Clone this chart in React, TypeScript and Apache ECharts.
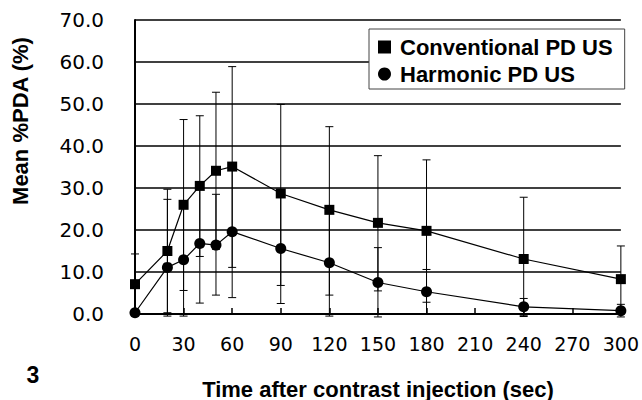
import React, { useEffect, useRef } from "react";
import * as echarts from "echarts";

const times = [0, 20, 30, 40, 50, 60, 90, 120, 150, 180, 240, 300];
const conventional = [7.1, 15.0, 26.0, 30.5, 34.1, 35.1, 28.7, 24.8, 21.7, 19.8, 13.1, 8.3];
const conventionalUpper = [14.3, 29.7, 46.3, 47.2, 52.8, 58.9, 49.9, 44.6, 37.7, 36.7, 27.8, 16.2];
const conventionalLower = [-0.1, 0.3, 5.6, 13.7, 15.4, 11.1, 6.8, 4.5, 5.5, 2.8, -0.6, 0.4];
const harmonic = [0.3, 11.1, 12.9, 16.8, 16.4, 19.6, 15.6, 12.2, 7.5, 5.3, 1.7, 0.8];
const harmonicUpper = [0.6, 27.3, 26.3, 30.9, 28.5, 35.3, 28.7, 24.9, 15.8, 10.6, 3.7, 2.3];
const harmonicLower = [0.0, -0.5, -0.5, 2.6, 4.5, 3.9, 2.5, -0.5, -0.7, 0.0, -0.3, -0.7];
const xTicks = [0, 30, 60, 90, 120, 150, 180, 210, 240, 270, 300];
const yTicks = [0, 10, 20, 30, 40, 50, 60, 70];
const seriesNames = ["Conventional PD US", "Harmonic PD US"];

const SANS = "Liberation Sans";

function errorBarItem(params: any, api: any) {
  const x = api.value(0);
  const lo = api.coord([x, api.value(1)]);
  const hi = api.coord([x, api.value(2)]);
  const w = 4;
  const style = { stroke: "#000", lineWidth: 1 };
  return {
    type: "group",
    children: [
      { type: "line", shape: { x1: lo[0], y1: lo[1], x2: hi[0], y2: hi[1] }, style },
      { type: "line", shape: { x1: lo[0] - w, y1: lo[1], x2: lo[0] + w, y2: lo[1] }, style },
      { type: "line", shape: { x1: hi[0] - w, y1: hi[1], x2: hi[0] + w, y2: hi[1] }, style },
    ],
  };
}

export default function App() {
  const ref = useRef<HTMLDivElement>(null);
  useEffect(() => {
    document.body.style.margin = "0";
    if (!ref.current) return;
    const chart = echarts.init(ref.current, null, { renderer: "svg" });
    const convPts = times.map((t, i) => [t, conventional[i]]);
    const harmPts = times.map((t, i) => [t, harmonic[i]]);
    const convErr = times.map((t, i) => [t, conventionalLower[i], conventionalUpper[i]]);
    const harmErr = times.map((t, i) => [t, harmonicLower[i], harmonicUpper[i]]);
    chart.setOption({
      animation: false,
      backgroundColor: "#fff",
      grid: { left: 135, top: 20, width: 486, height: 294 },
      xAxis: {
        type: "value",
        min: xTicks[0],
        max: xTicks[xTicks.length - 1],
        interval: 30,
        axisLine: { show: true, onZero: false, lineStyle: { color: "#000", width: 2 } },
        axisTick: { show: true, inside: true, length: 6, lineStyle: { color: "#000", width: 1.5 } },
        axisLabel: { margin: 20, color: "#000", fontFamily: "DejaVu Sans", fontSize: 19 },
        splitLine: { show: false },
      },
      yAxis: {
        type: "value",
        min: yTicks[0],
        max: yTicks[yTicks.length - 1],
        interval: 10,
        axisLine: { show: true, lineStyle: { color: "#000", width: 2 } },
        axisTick: { show: false },
        axisLabel: {
          margin: 31,
          color: "#000",
          fontFamily: "DejaVu Sans",
          fontSize: 20,
          formatter: (v: number) => v.toFixed(1),
        },
        splitLine: { show: true, lineStyle: { color: "#000", width: 1.6 } },
      },
      legend: {
        orient: "vertical",
        left: 369,
        top: 29,
        padding: [7, 12, 4, 9],
        itemGap: 5,
        itemWidth: 13,
        itemHeight: 13,
        borderColor: "#444",
        borderWidth: 1,
        backgroundColor: "#fff",
        data: [
          { name: seriesNames[0], icon: "rect" },
          { name: seriesNames[1], icon: "circle" },
        ],
        textStyle: {
          color: "#000",
          fontFamily: SANS,
          fontWeight: "bold",
          fontSize: 22,
          padding: [0, 0, 0, 4],
        },
      },
      graphic: [
        {
          type: "text",
          x: 20,
          y: 121,
          rotation: Math.PI / 2,
          style: {
            text: "Mean %PDA (%)",
            fill: "#000",
            font: `bold 22px "${SANS}"`,
            align: "center",
            verticalAlign: "middle",
          },
        },
        {
          type: "text",
          x: 378,
          y: 389,
          style: {
            text: "Time after contrast injection (sec)",
            fill: "#000",
            font: `bold 22px "${SANS}"`,
            align: "center",
            verticalAlign: "middle",
          },
        },
        {
          type: "text",
          x: 33,
          y: 375,
          style: {
            text: "3",
            fill: "#000",
            font: `bold 23px "${SANS}"`,
            align: "center",
            verticalAlign: "middle",
          },
        },
      ],
      series: [
        {
          type: "custom",
          name: "convErr",
          renderItem: errorBarItem,
          data: convErr,
          z: 1,
          clip: false,
          encode: { x: 0, y: [1, 2] },
        },
        {
          type: "custom",
          name: "harmErr",
          renderItem: errorBarItem,
          data: harmErr,
          z: 1,
          clip: false,
          encode: { x: 0, y: [1, 2] },
        },
        {
          type: "line",
          name: seriesNames[0],
          data: convPts,
          symbol: "rect",
          symbolSize: 10,
          itemStyle: { color: "#000" },
          lineStyle: { color: "#000", width: 1.2 },
          z: 3,
          clip: false,
        },
        {
          type: "line",
          name: seriesNames[1],
          data: harmPts,
          symbol: "circle",
          symbolSize: 11,
          itemStyle: { color: "#000" },
          lineStyle: { color: "#000", width: 1.2 },
          z: 3,
          clip: false,
        },
      ],
    });
    return () => chart.dispose();
  }, []);
  return <div ref={ref} style={{ width: 642, height: 400 }} />;
}
